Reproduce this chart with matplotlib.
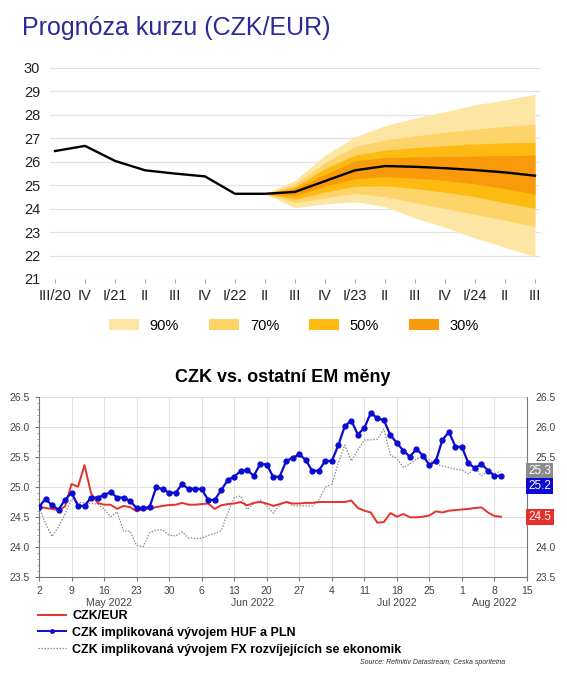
"""CZK/EUR forecast fan chart plus CZK vs. other EM currencies."""

import matplotlib
import matplotlib.dates as mdates
import matplotlib.patches as mpatches
import matplotlib.transforms as mtransforms
from matplotlib.lines import Line2D
import numpy as np

matplotlib.use("Agg")
import matplotlib.pyplot as plt  # noqa: E402

plt.rcParams["font.family"] = ["Liberation Sans", "DejaVu Sans"]

# --- top panel: quarterly forecast -------------------------------------
quarters = ["III/20", "IV", "I/21", "II", "III", "IV", "I/22", "II", "III",
            "IV", "I/23", "II", "III", "IV", "I/24", "II", "III"]
kurz = [26.45, 26.67, 26.03, 25.63, 25.49, 25.37, 24.63, 24.63, 24.71,
        25.17, 25.63, 25.81, 25.78, 25.72, 25.64, 25.54, 25.40]

fan_start = 7  # II/22, fan opens here
up90 = [24.63, 25.20, 26.28, 27.06, 27.53, 27.85, 28.13, 28.42, 28.63, 28.87]
lo90 = [24.63, 24.04, 24.20, 24.29, 24.08, 23.60, 23.20, 22.75, 22.35, 21.95]
up70 = [24.63, 25.05, 25.95, 26.64, 26.92, 27.10, 27.25, 27.38, 27.50, 27.59]
lo70 = [24.63, 24.25, 24.45, 24.65, 24.51, 24.25, 24.00, 23.75, 23.50, 23.23]
up50 = [24.63, 24.93, 25.70, 26.28, 26.49, 26.60, 26.68, 26.75, 26.80, 26.82]
lo50 = [24.63, 24.40, 24.70, 24.95, 24.97, 24.85, 24.70, 24.50, 24.25, 24.01]
up30 = [24.63, 24.85, 25.45, 26.03, 26.17, 26.20, 26.22, 26.24, 26.26, 26.28]
lo30 = [24.63, 24.55, 24.95, 25.28, 25.36, 25.30, 25.20, 25.05, 24.85, 24.61]

fan_labels = ["90%", "70%", "50%", "30%"]
fan_colors = ["#fde6a4", "#fdd469", "#fdbb12", "#f99a0a"]

# --- bottom panel: daily (business day) fixings, 2 May - 9 Aug 2022 ----
czk_eur = [
    24.67, 24.655, 24.64, 24.62, 24.68, 25.055, 25.01, 25.37, 24.90, 24.74,
    24.71, 24.71, 24.64, 24.69, 24.67, 24.60, 24.64, 24.64, 24.67, 24.69,
    24.705, 24.71, 24.74, 24.71, 24.71, 24.72, 24.73, 24.64, 24.70, 24.72,
    24.73, 24.755, 24.70, 24.74, 24.755, 24.73, 24.69, 24.72, 24.755, 24.73,
    24.73, 24.74, 24.74, 24.755, 24.755, 24.755, 24.755, 24.755, 24.78, 24.655,
    24.61, 24.58, 24.41, 24.42, 24.57, 24.51, 24.555, 24.50, 24.50, 24.51,
    24.53, 24.60, 24.58, 24.61, 24.62, 24.63, 24.64, 24.655, 24.665, 24.58,
    24.52, 24.51,
]
huf_pln = [
    24.67, 24.81, 24.70, 24.63, 24.79, 24.91, 24.69, 24.69, 24.83, 24.83,
    24.87, 24.92, 24.83, 24.83, 24.77, 24.655, 24.655, 24.67, 25.00, 24.97,
    24.91, 24.91, 25.055, 24.97, 24.98, 24.97, 24.79, 24.79, 24.95, 25.12,
    25.18, 25.27, 25.29, 25.19, 25.39, 25.38, 25.17, 25.18, 25.44, 25.49,
    25.55, 25.455, 25.27, 25.28, 25.44, 25.44, 25.70, 26.02, 26.11, 25.88,
    25.99, 26.24, 26.15, 26.12, 25.87, 25.74, 25.61, 25.51, 25.64, 25.53,
    25.37, 25.44, 25.79, 25.92, 25.68, 25.67, 25.40, 25.32, 25.39, 25.28,
    25.19, 25.19,
]
em_fx = [
    24.67, 24.40, 24.18, 24.34, 24.555, 24.81, 24.75, 24.74, 24.73, 24.72,
    24.64, 24.51, 24.59, 24.27, 24.27, 24.03, 24.01, 24.24, 24.29, 24.29,
    24.20, 24.19, 24.255, 24.155, 24.15, 24.15, 24.20, 24.23, 24.28, 24.57,
    24.83, 24.855, 24.63, 24.73, 24.79, 24.69, 24.57, 24.705, 24.76, 24.69,
    24.69, 24.69, 24.69, 24.79, 25.00, 25.055, 25.40, 25.705, 25.44, 25.62,
    25.79, 25.79, 25.80, 25.97, 25.54, 25.48, 25.33, 25.39, 25.47, 25.51,
    25.455, 25.39, 25.355, 25.33, 25.30, 25.29, 25.22, 25.33, 25.19, 25.26,
    25.23, 25.27,
]
series_names = ["CZK/EUR", "CZK implikovaná vývojem HUF a PLN",
                "CZK implikovaná vývojem FX rozvíjejících se ekonomik"]
red, blue, grey = "#e8302a", "#0a0ad2", "#8c8c8c"

fig = plt.figure(figsize=(5.67, 6.76), dpi=100)
fig.text(22 / 567, 1 - 28 / 676, "Prognóza kurzu (CZK/EUR)", color="#2b2b96",
         fontsize=18, ha="left", va="center")

# top axes
ax1 = fig.add_axes([50 / 567, 1 - 279 / 676, 490 / 567, (279 - 67.7) / 676])
xq = np.arange(len(quarters))
xf = xq[fan_start:]
for lo, up, col in zip([lo90, lo70, lo50, lo30], [up90, up70, up50, up30],
                       fan_colors):
    ax1.fill_between(xf, lo, up, color=col, lw=0, zorder=2)
ax1.plot(xq, kurz, color="black", lw=1.7, zorder=3)
ax1.set_xlim(-0.167, len(quarters) - 1 + 0.167)
ax1.set_ylim(21, 30)
ax1.set_yticks(range(21, 31))
ax1.set_xticks(xq)
ax1.set_xticklabels(quarters)
ax1.grid(axis="y", color="#e2e2e2", lw=0.9, zorder=0)
for s in ax1.spines.values():
    s.set_visible(False)
ax1.tick_params(axis="y", length=0, labelsize=10.5, pad=7, labelcolor="#222")
ax1.tick_params(axis="x", length=3, color="#aaa", labelsize=10.5, pad=4,
                labelcolor="#222")
handles = [mpatches.Patch(color=c, lw=0) for c in fan_colors]
fig.legend(handles, fan_labels, loc="center", ncol=4, frameon=False,
           bbox_to_anchor=(294 / 567, 1 - 325.5 / 676), fontsize=10.5,
           handlelength=2.05, handleheight=0.7, handletextpad=0.75,
           columnspacing=2.05, borderpad=0)

# bottom axes
ax2 = fig.add_axes([39 / 567, 1 - 577.3 / 676, 488 / 567, 180 / 676])
start = mdates.date2num(np.datetime64("2022-05-02"))
# the source spaces business days evenly: 5 points per calendar week
xd = start + np.arange(len(czk_eur)) * 1.4
ax2.plot(xd, em_fx, color=grey, lw=0.9, ls=(0, (1.2, 1.2)), zorder=3)
ax2.plot(xd, czk_eur, color=red, lw=1.4, zorder=4)
ax2.plot(xd, huf_pln, color=blue, lw=1.6, marker="o", ms=3.5, zorder=5)
ax2.set_xlim(start, mdates.date2num(np.datetime64("2022-08-15")))
yticks = np.arange(23.5, 26.51, 0.5)
ax2.set_ylim(23.5, 26.5)
ax2.set_yticks(yticks)
ax2.yaxis.set_major_formatter(matplotlib.ticker.FormatStrFormatter("%.1f"))
ax2.yaxis.set_minor_locator(matplotlib.ticker.MultipleLocator(0.1))
ax2.xaxis.set_major_locator(mdates.WeekdayLocator(byweekday=mdates.MO))
ax2.xaxis.set_major_formatter(mdates.DateFormatter("%-d"))
ax2.grid(color="#e0e0e0", lw=0.7, zorder=0)
ax2.spines["top"].set_visible(False)
for side in ("left", "right", "bottom"):
    ax2.spines[side].set_color("#777")
    ax2.spines[side].set_linewidth(0.8)
ax2.tick_params(axis="both", which="major", labelsize=7.5,
                labelcolor="#444", color="#777", length=3)
ax2.tick_params(axis="y", which="both", right=True)
ax2.tick_params(axis="y", which="minor", length=1.5, color="#999")
ax2.set_title("CZK vs. ostatní EM měny", fontsize=13, fontweight="bold",
              pad=11)

# right-hand labels; 25.0 and 24.5 sit under the end-value boxes
ax3 = ax2.twinx()
ax3.set_ylim(23.5, 26.5)
ax3.set_yticks(yticks)
ax3.set_yticklabels(["" if round(v, 1) in (24.5, 25.0) else f"{v:.1f}"
                     for v in yticks])
for s in ax3.spines.values():
    s.set_visible(False)
ax3.tick_params(axis="y", length=0, labelsize=7.5, labelcolor="#444", pad=6)

trans = mtransforms.blended_transform_factory(ax2.transData, ax2.transAxes)
for label, day in [("May 2022", "2022-05-17"), ("Jun 2022", "2022-06-17"),
                   ("Jul 2022", "2022-07-18"), ("Aug 2022", "2022-08-08")]:
    ax2.text(mdates.date2num(np.datetime64(day)), -0.145, label,
             transform=trans, ha="center", va="center", fontsize=7.5,
             color="#444")

# end value boxes on the right axis
ytrans = mtransforms.blended_transform_factory(ax2.transAxes, ax2.transData)
boxes = [(em_fx[-1], em_fx[-1], grey), (huf_pln[-1], 25.02, blue),
         (czk_eur[-1], czk_eur[-1], red)]
for val, ypos, col in boxes:
    ax2.text(1.003, ypos, f"{val:.1f}", transform=ytrans, ha="left",
             va="center", fontsize=8.5, color="white", zorder=10,
             bbox=dict(boxstyle="square,pad=0.18", fc=col, ec="none"))

leg_handles = [
    Line2D([], [], color=red, lw=1.4),
    Line2D([], [], color=blue, lw=1.4, marker="o", ms=2.5, markevery=[0, -1]),
    Line2D([], [], color=grey, lw=0.9, ls=(0, (1.2, 1.2))),
]
fig.legend(leg_handles, series_names, loc="upper left", frameon=False,
           bbox_to_anchor=(38 / 567, 1 - 610 / 676), borderpad=0,
           borderaxespad=0, handlelength=2.2, handletextpad=0.55,
           labelspacing=0.38, prop=dict(weight="bold", size=9))
fig.text(505 / 567, 1 - 663 / 676,
         "Source: Refinitiv Datastream, Ceska sporitelna", fontsize=5,
         style="italic", ha="right", va="center", color="#333")

fig.savefig("out.png", dpi=100, facecolor="white")
